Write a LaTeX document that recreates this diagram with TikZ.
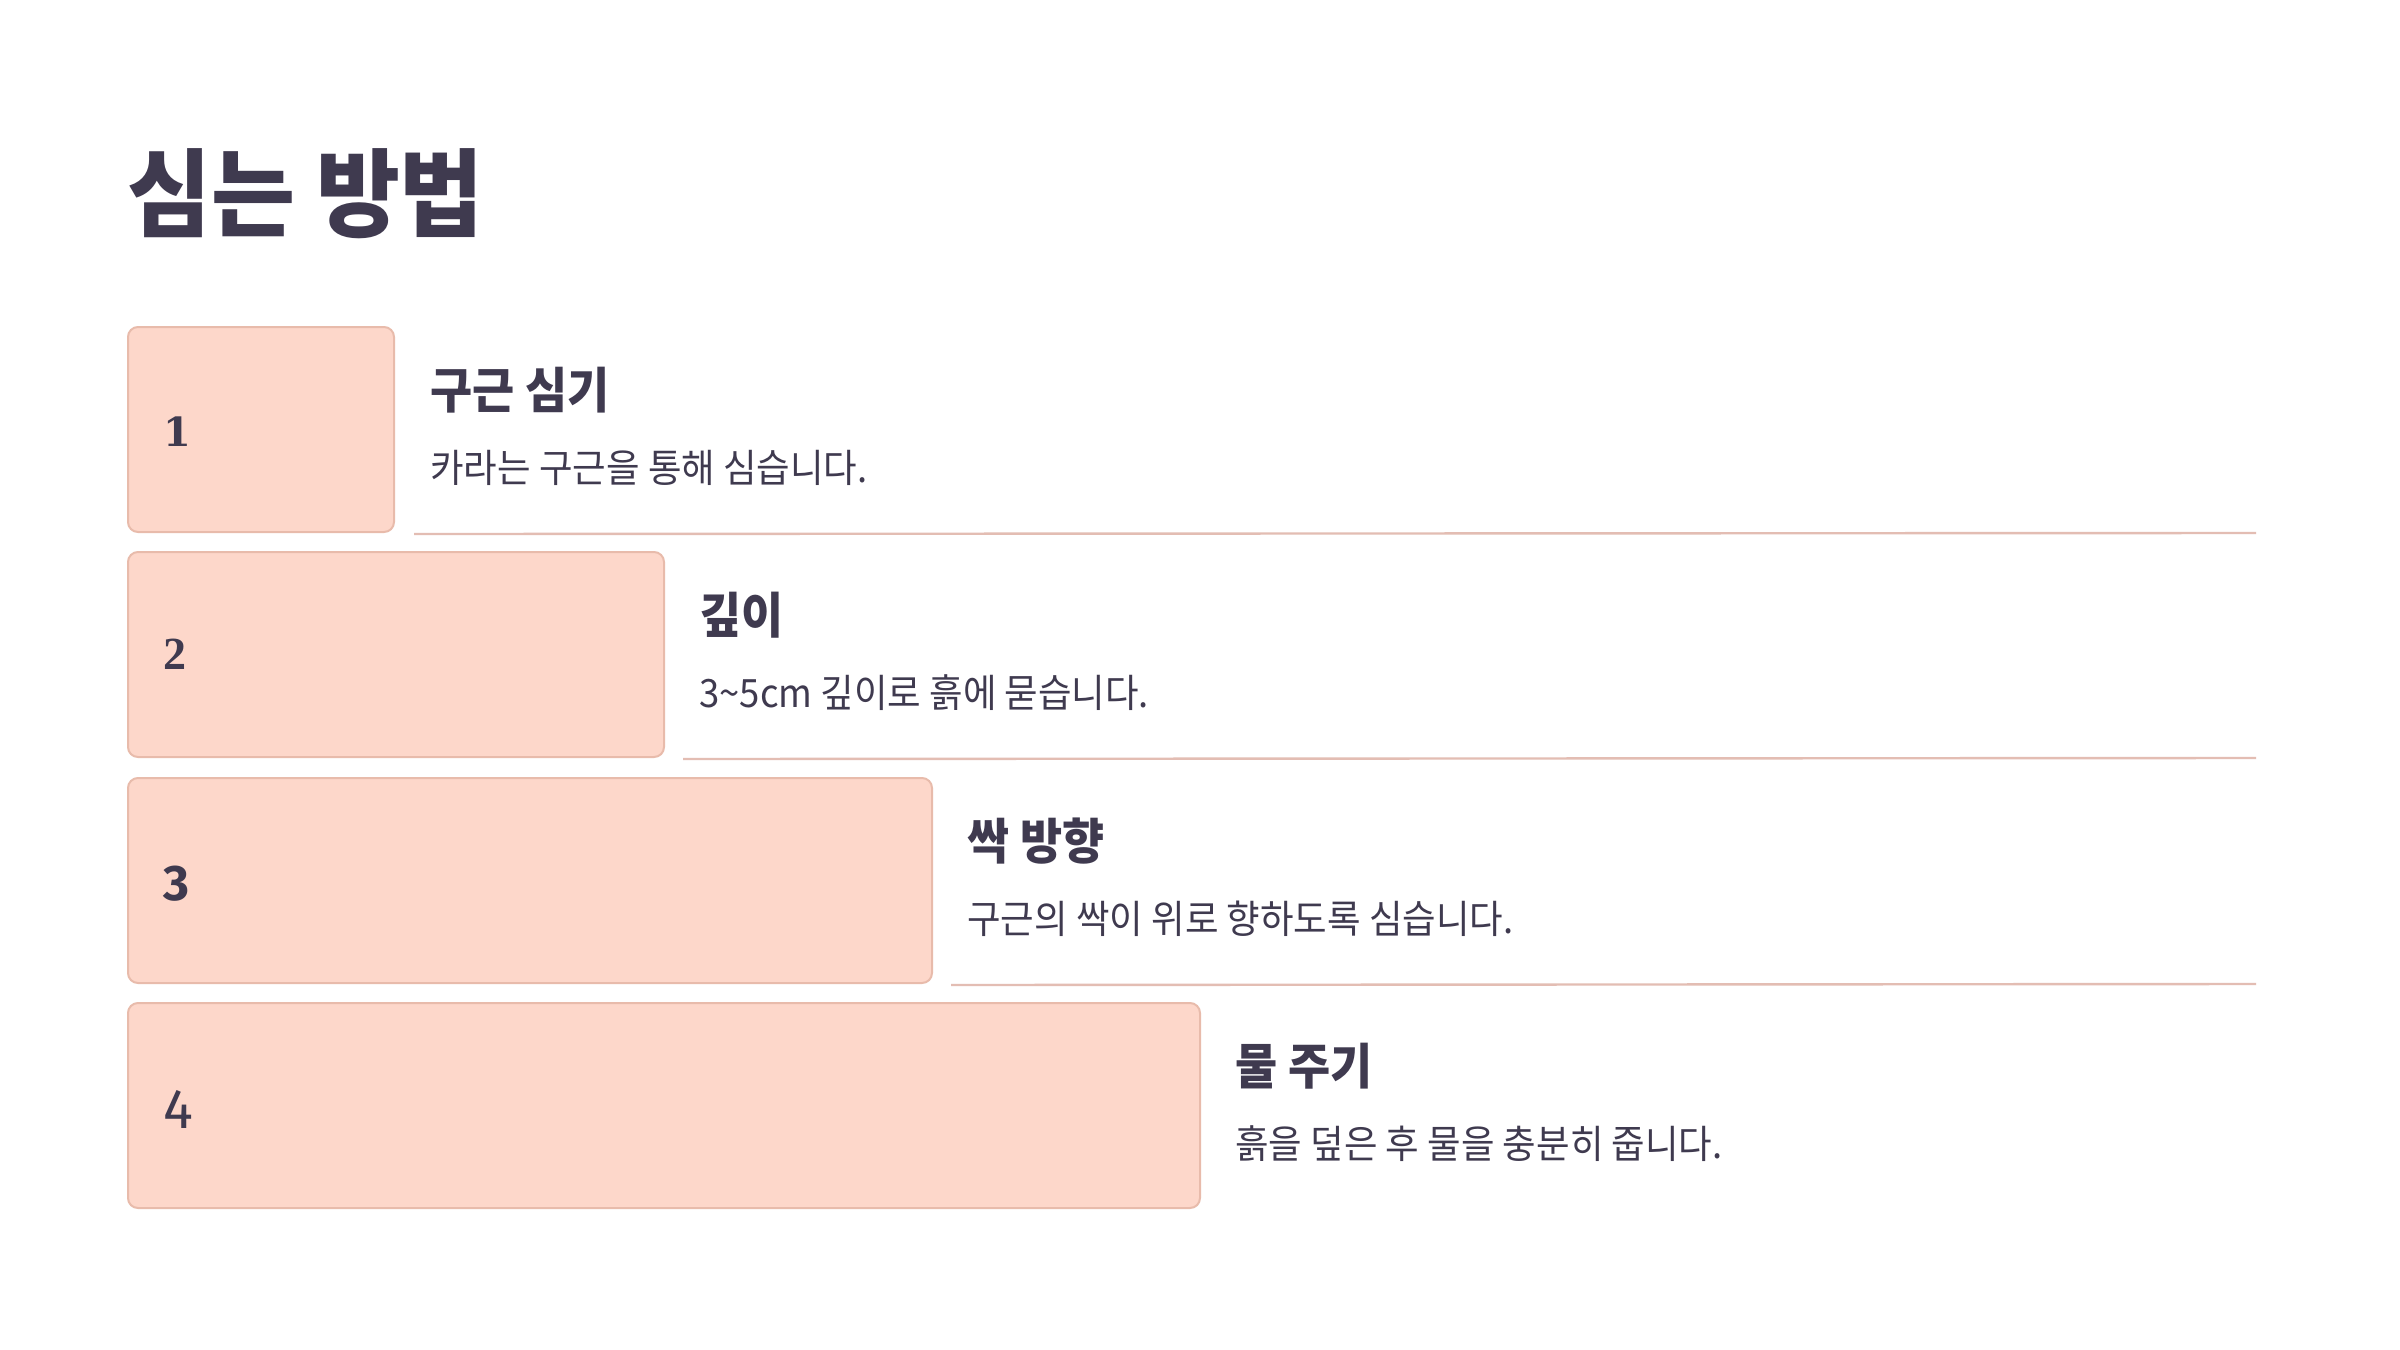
\documentclass[tikz,border=0pt]{standalone}
\usepackage{fontspec}
\newfontfamily\krfont{Noto Sans CJK KR}[RawFeature=+palt, FakeStretch=0.935]
\newfontfamily\krtitle{Noto Sans CJK KR}[RawFeature=+palt, FakeStretch=0.95]
\newfontfamily\numserif{DejaVu Serif}
\newfontfamily\numtimes{Liberation Serif}
\newfontfamily\numsans{Fira Sans}
\definecolor{ink}{HTML}{3F3A4F}
\definecolor{boxfill}{HTML}{FDD7CA}
\definecolor{boxline}{HTML}{E8BBAB}
\definecolor{rulecol}{HTML}{E3BDB3}
\tikzset{
  stepbox/.style={draw=boxline, fill=boxfill, line width=1pt, rounded corners=5pt,
    minimum height=102.5pt, anchor=north west, inner sep=0pt},
  numlabel/.style={text=ink, anchor=west, inner sep=0pt},
  headlabel/.style={text=ink, anchor=base west, inner sep=0pt, font=\krfont\bfseries\fontsize{24.5}{30}\selectfont},
  desclabel/.style={text=ink, anchor=base west, inner sep=0pt, font=\krfont\fontsize{19.5}{24}\selectfont},
  seprule/.style={draw=rulecol, line width=1.2pt}
}
\begin{document}
\begin{tikzpicture}[x=0.5pt,y=-0.5pt]
\useasboundingbox[fill=white] (0,0) rectangle (2400,1350);
\node[text=ink, anchor=base west, inner sep=0pt, font=\krtitle\bfseries\fontsize{48}{56}\selectfont] (title) at (127,229) {심는 방법};
\coordinate (rgt) at (2256,0);
% boxes
\node[stepbox, minimum width=133pt] (b1) at (127,326) {};
\node[stepbox, minimum width=268pt] (b2) at (127,551) {};
\node[stepbox, minimum width=402pt] (b3) at (127,777) {};
\node[stepbox, minimum width=536pt] (b4) at (127,1002) {};
% numbers
\node[numlabel, font=\numserif\bfseries\fontsize{20}{24}\selectfont] (n1) at ([xshift=18pt,yshift=-1pt]b1.west) {1};
\node[numlabel, font=\numtimes\bfseries\fontsize{23}{27}\selectfont] (n2) at ([xshift=18pt]b2.west) {2};
\node[numlabel, font=\numsans\bfseries\fontsize{25}{30}\selectfont] (n3) at ([xshift=18pt,yshift=-1.5pt]b3.west) {3};
\node[numlabel, font=\numsans\fontsize{28}{32}\selectfont] (n4) at ([xshift=18pt,yshift=-2pt]b4.west) {4};
% headings
\node[headlabel] (h1) at ([xshift=17.5pt,yshift=-41pt]b1.north east) {구근 심기};
\node[headlabel] (h2) at ([xshift=17pt,yshift=-41pt]b2.north east) {깊이};
\node[headlabel] (h3) at ([xshift=17pt,yshift=-41pt]b3.north east) {싹 방향};
\node[headlabel] (h4) at ([xshift=17pt,yshift=-41pt]b4.north east) {물 주기};
% descriptions
\node[desclabel] (d1) at ([xshift=17.5pt,yshift=-78pt]b1.north east) {카라는 구근을 통해 심습니다.};
\node[desclabel] (d2) at ([xshift=17pt,yshift=-78pt]b2.north east) {3\textasciitilde5cm 깊이로 흙에 묻습니다.};
\node[desclabel] (d3) at ([xshift=17pt,yshift=-78pt]b3.north east) {구근의 싹이 위로 향하도록 심습니다.};
\node[desclabel] (d4) at ([xshift=17pt,yshift=-78pt]b4.north east) {흙을 덮은 후 물을 충분히 줍니다.};
% separators
\draw[seprule] ([xshift=9.5pt,yshift=-0.5pt]b1.south east) -- (b1.south east -| rgt);
\draw[seprule] ([xshift=9pt,yshift=-0.5pt]b2.south east) -- (b2.south east -| rgt);
\draw[seprule] ([xshift=9pt,yshift=-0.5pt]b3.south east) -- (b3.south east -| rgt);
\end{tikzpicture}
\end{document}
